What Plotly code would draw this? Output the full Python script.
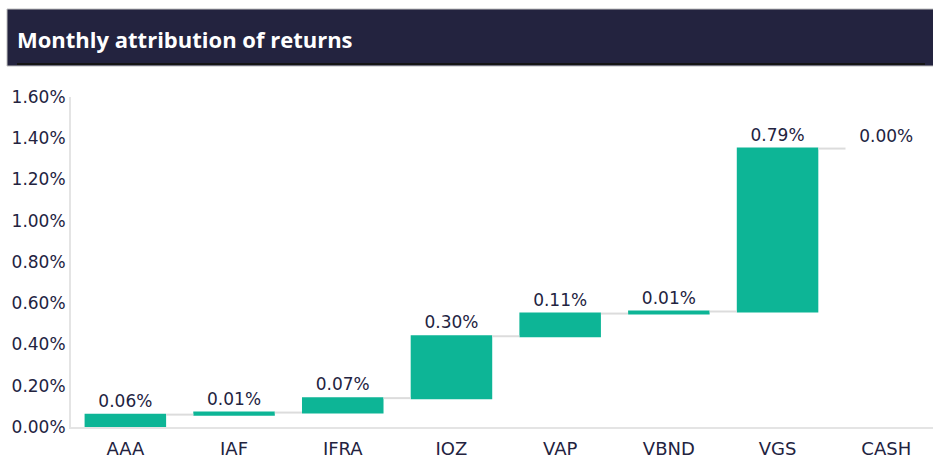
import plotly.graph_objects as go

categories = ["AAA", "IAF", "IFRA", "IOZ", "VAP", "VBND", "VGS", "CASH"]
values = [0.0006, 0.0001, 0.0007, 0.0030, 0.0011, 0.0001, 0.0079, 0.0000]
labels = ["0.06%", "0.01%", "0.07%", "0.30%", "0.11%", "0.01%", "0.79%", "0.00%"]
y_ticks = [0, 0.002, 0.004, 0.006, 0.008, 0.010, 0.012, 0.014, 0.016]
y_tick_labels = ["0.00%", "0.20%", "0.40%", "0.60%", "0.80%", "1.00%", "1.20%", "1.40%", "1.60%"]

TEAL = "#0db596"
NAVY = "#23233f"
FONT = "DejaVu Sans"
TFONT = "Open Sans"

fig = go.Figure(go.Waterfall(
    x=categories,
    y=values,
    measure=["relative"] * len(categories),
    text=labels,
    textposition="outside",
    textfont=dict(family=FONT, size=17, color=NAVY),
    increasing=dict(marker=dict(color=TEAL)),
    decreasing=dict(marker=dict(color=TEAL)),
    totals=dict(marker=dict(color=TEAL)),
    connector=dict(line=dict(color="#dcdcdc", width=2)),
    width=0.75,
    cliponaxis=False,
    hoverinfo="skip",
))

L, R, T, B = 71, 0, 97, 34
W, H = 933, 461
pw = W - L - R
ph = H - T - B

def px_x(x):
    return (x - L) / pw

def px_y(y):
    return (H - B - y) / ph

fig.add_shape(type="rect", xref="paper", yref="paper",
              x0=px_x(7), x1=px_x(934), y0=px_y(66), y1=px_y(9),
              fillcolor=NAVY, line=dict(color="#bfbfbf", width=1), layer="above")
fig.add_shape(type="line", xref="paper", yref="paper",
              x0=px_x(17), x1=px_x(925), y0=px_y(64), y1=px_y(64),
              line=dict(color="#151515", width=2), layer="above")
fig.add_annotation(text="<b>Monthly attribution of returns</b>", xref="paper", yref="paper",
                   x=px_x(15), y=px_y(39), xanchor="left", yanchor="middle", showarrow=False,
                   font=dict(family=TFONT, size=22, color="white"))

fig.update_layout(
    width=W, height=H,
    margin=dict(l=L, r=R, t=T, b=B),
    paper_bgcolor="white", plot_bgcolor="white",
    showlegend=False,
    font=dict(family=FONT, color=NAVY),
    xaxis=dict(range=[-0.5, 7.43], showgrid=False, showline=True, linecolor="#e4e4e4", linewidth=2,
               tickfont=dict(family=FONT, size=18, color=NAVY), ticks="", ticklabelstandoff=4,
               fixedrange=True),
    yaxis=dict(range=[0, 0.016], tickvals=y_ticks, ticktext=y_tick_labels,
               showgrid=False, zeroline=False, showline=True, linecolor="#e4e4e4", linewidth=2,
               tickfont=dict(family=FONT, size=17, color=NAVY), ticks="", fixedrange=True),
)

fig.write_html("out.html", config={"displayModeBar": False},
               post_script="document.body.style.margin='0';document.body.style.overflow='hidden';")
